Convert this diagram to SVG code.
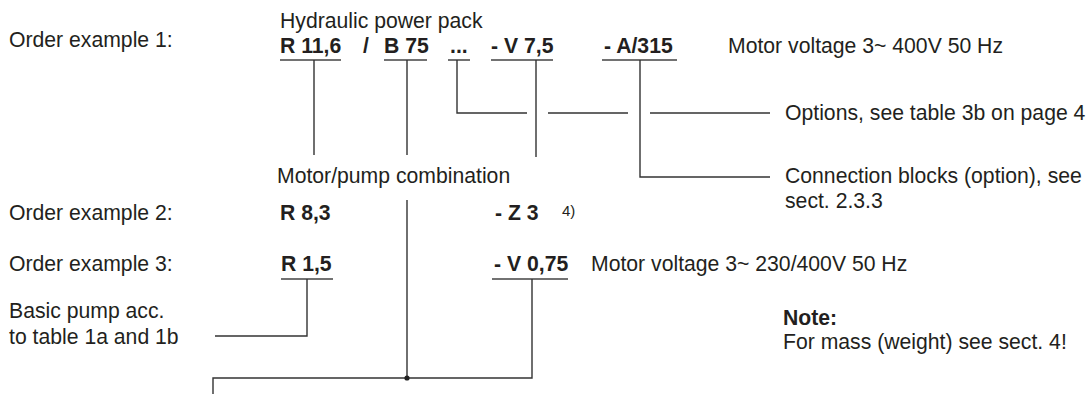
<svg xmlns="http://www.w3.org/2000/svg" width="1089" height="394" viewBox="0 0 1089 394">
<style>
text{font-family:"Liberation Sans",Arial,sans-serif;font-size:21.2px;fill:#231f20}
.b{font-weight:bold}
.sup{font-size:15px}
.ln{stroke:#333;stroke-width:1.4;fill:none}
.ul{stroke:#444;stroke-width:1.6;fill:none}
</style>
<rect width="1089" height="394" fill="#fff"/>
<g id="labels-left">
<text x="9" y="47">Order example 1:</text>
<text x="9" y="220">Order example 2:</text>
<text x="9" y="271">Order example 3:</text>
</g>
<g id="title"><text x="280" y="28">Hydraulic power pack</text></g>
<g id="ex1">
<text class="b" x="280" y="53">R 11,6</text>
<text class="b" x="363" y="53">/</text>
<text class="b" x="384" y="53">B 75</text>
<text class="b" x="450" y="53">...</text>
<text class="b" x="491" y="53">- V 7,5</text>
<text class="b" x="604" y="53">- A/315</text>
<text x="728" y="53">Motor voltage 3~ 400V 50 Hz</text>
</g>
<g id="ex2">
<text class="b" x="280" y="220">R 8,3</text>
<text class="b" x="495" y="220">- Z 3</text>
<text class="sup" x="562" y="216">4)</text>
</g>
<g id="ex3">
<text class="b" x="281" y="271">R 1,5</text>
<text class="b" x="494" y="271">- V 0,75</text>
<text x="591" y="271">Motor voltage 3~ 230/400V 50 Hz</text>
</g>
<g id="options"><text x="785" y="120">Options, see table 3b on page 4</text></g>
<g id="connection-blocks"><text x="785" y="183">Connection blocks (option), see</text><text x="785" y="208">sect. 2.3.3</text></g>
<g id="motor-pump"><text x="277" y="183">Motor/pump combination</text></g>
<g id="basic-pump"><text x="9" y="318">Basic pump acc.</text><text x="9" y="344">to table 1a and 1b</text></g>
<g id="note"><text class="b" x="783" y="325">Note:</text><text x="783" y="349">For mass (weight) see sect. 4!</text></g>
<g id="connectors">
<path class="ul" d="M280 60H341M384 60H427M448 60H470M491 60H553M602 60H677M281 279H333M492 279H568"/>
<path class="ln" d="M314 60V155M407 60V155M536 60V157"/>
<path class="ln" d="M457 60V113H527M548 113H628M650 113H770"/>
<path class="ln" d="M640 60V177H770"/>
<path class="ln" d="M407 200V378"/>
<path class="ln" d="M307 279V336H215"/>
<path class="ln" d="M532 279V378H213V394"/>
<circle cx="407" cy="378" r="2.6" fill="#222"/>
</g>
</svg>
